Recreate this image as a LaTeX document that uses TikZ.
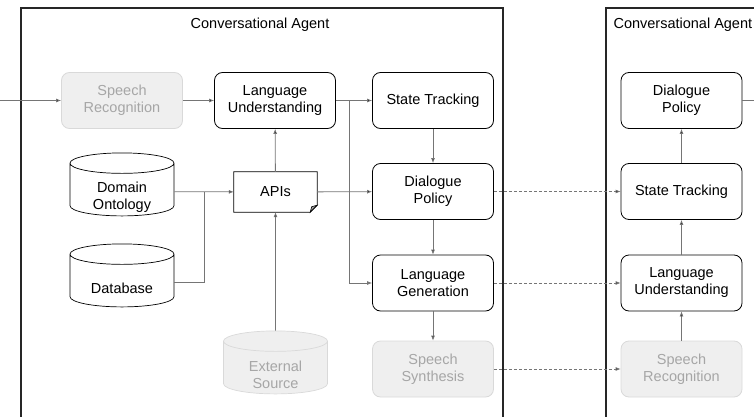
\documentclass[tikz,border=0pt]{standalone}
\usepackage{fontspec}
\setmainfont{Liberation Sans}
\usetikzlibrary{arrows.meta,positioning,shapes.geometric,calc}

\definecolor{linegray}{HTML}{757575}
\definecolor{fadefill}{HTML}{EFEFEF}
\definecolor{fadedraw}{HTML}{D9D9D9}
\definecolor{fadetext}{HTML}{A6A6A6}
\newcommand{\drum}{\rule{72pt}{0pt}}

\begin{document}
\begin{tikzpicture}[x=1pt,y=-1pt,on grid,>={Latex[length=5pt,width=4pt]},
  font=\fontsize{14.5}{17}\selectfont]
  \tikzstyle{box}=[draw=black,rounded corners=8pt,minimum width=121pt,minimum height=56pt,align=center,line width=0.8pt]
  \tikzstyle{faded}=[box,draw=fadedraw,fill=fadefill,text=fadetext]
  \tikzstyle{store}=[cylinder,shape border rotate=90,aspect=0.26,draw=black,minimum width=104pt,minimum height=63pt,line width=0.7pt]
  \tikzstyle{storetext}=[align=center,yshift=-5.5pt]
  \tikzstyle{frame}=[draw=black!85,line width=1.4pt]
  \tikzstyle{conn}=[draw=linegray,line width=0.8pt]
  \tikzstyle{talk}=[conn,dash pattern=on 3pt off 2pt]

  \clip (0,0) rectangle (754,417);

  % the two agents
  \draw[frame] (21,8) rectangle (503,430);
  \draw[frame] (606,8) rectangle (800,430);
  \node (title1) at (260,25) {Conversational Agent};
  \node[anchor=west] (title2) at (610,25) {Conversational Agent};

  % left agent
  \node[box] (lu) at (275,100.5) {Language\\Understanding};
  \node[faded] (sr) [left=153pt of lu] {Speech\\Recognition};
  \node[box] (st) [right=158pt of lu] {State Tracking};
  \node[box] (dp) [below=91pt of st] {Dialogue\\Policy};
  \node[box] (lg) [below=91.5pt of dp] {Language\\Generation};
  \node[faded] (ss) [below=86pt of lg] {Speech\\Synthesis};

  \node[store,label={[storetext]center:Domain\\Ontology}] (onto) at (122,191.5) {\drum};
  \node[store,label={[storetext]center:Database}] (db) [below=91pt of onto] {\drum};
  \node[store,draw=fadedraw,fill=fadefill,label={[storetext,text=fadetext]center:External\\Source}] (ext) at (275.5,369.5) {\drum};

  \node[minimum width=83pt,minimum height=40pt] (api) at (275.5,192) {APIs};
  \draw[line width=0.7pt] (api.north west) -- (api.north east) -- ($(api.south east)+(0,-7)$)
    -- ($(api.south east)+(-7,0)$) -- (api.south west) -- cycle;
  \draw[line width=0.6pt,fill=linegray!70] ($(api.south east)+(0,-7)$) -- ($(api.south east)+(-7,0)$)
    -- ($(api.south east)+(-5.5,-5.5)$) -- cycle;

  % right agent
  \node[box] (dp2) [right=248.5pt of st] {Dialogue\\Policy};
  \node[box] (st2) [below=91pt of dp2] {State Tracking};
  \node[box] (lu2) [below=91.5pt of st2] {Language\\Understanding};
  \node[faded] (sr2) [below=86pt of lu2] {Speech\\Recognition};

  \coordinate (in) at (-10,100.5);
  \coordinate (out) at (770,100.5);
  \coordinate (br) at (349,100.5);
  \coordinate (jn) at (204,191.5);

  \path[conn,->]
  (in) edge (sr)
  (sr) edge (lu)
  (lu) edge (st)
  (onto) edge (api)
  (api) edge (lu)
  (api) edge (dp)
  (ext) edge (api)
  (st) edge (dp)
  (dp) edge (lg)
  (lg) edge (ss)
  (sr2) edge (lu2)
  (lu2) edge (st2)
  (st2) edge (dp2);
  \draw[conn,->] (br) |- (lg);
  \draw[conn] (db) -| (jn);
  \draw[conn] (dp2) -- (out);

  \path[talk,->]
  (dp) edge (st2)
  (lg) edge (lu2)
  (ss) edge (sr2);
\end{tikzpicture}
\end{document}
